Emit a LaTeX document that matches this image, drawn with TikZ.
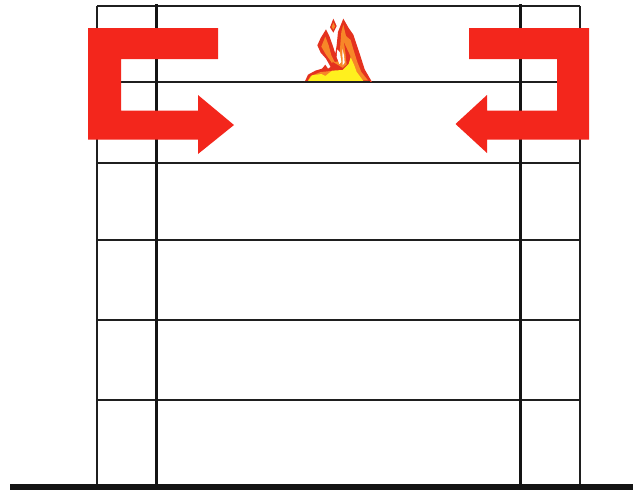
\documentclass[tikz,border=0pt]{standalone}
\definecolor{fire}{RGB}{243,38,28}
\definecolor{flameo}{RGB}{247,135,40}
\definecolor{flamer}{RGB}{228,50,30}
\definecolor{flamey}{RGB}{255,240,30}
\tikzset{
  thinline/.style={draw=black!88,line width=1.7pt},
  post/.style={draw=black!92,line width=3pt},
  redarrow/.style={fill=fire,draw=none}
}
\begin{document}
\begin{tikzpicture}[x=1pt,y=-1pt]
\useasboundingbox (0,0) rectangle (633,490);
% grid
\foreach \y in {6,82,163,240,320,400}
  \draw[thinline] (96.8,\y) -- (580,\y);
\foreach \x in {96.8,580}
  \draw[thinline] (\x,6) -- (\x,484);
\foreach \x in {156,520.5}
  \draw[post] (\x,4) -- (\x,484);
% ground
\fill[black!92] (10,483.5) rectangle (633,490);
% arrows
\fill[redarrow] (88,28) -- (218,28) -- (218,59) -- (121,59) -- (121,110.5) -- (198,110.5)
  -- (198,95) -- (234,125) -- (198,154) -- (198,139.5) -- (88,139.5) -- cycle;
\fill[redarrow] (589,28) -- (469,28) -- (469,59) -- (557,59) -- (557,110.5) -- (487,110.5)
  -- (487,95) -- (455.5,124) -- (487,153) -- (487,139.5) -- (589,139.5) -- cycle;
% flame
\begin{scope}[shift={(300,12)},x=0.3333pt,y=-0.3333pt]
% base and right body
\fill[flamer] (14,210) -- (24,188) -- (46,176) -- (66,170) -- (76,158) -- (84,170) -- (92,165)
  -- (78,140) -- (62,122) -- (52,100) -- (62,78) -- (78,52) -- (88,72) -- (98,100) -- (106,125)
  -- (110,100) -- (114,60) -- (130,20) -- (146,48) -- (160,68) -- (170,98) -- (180,128)
  -- (194,172) -- (216,210) -- cycle;
% small top-left tongue
\fill[flamer] (100,20) -- (110,42) -- (100,62) -- (90,46) -- cycle;
\fill[flameo] (100,32) -- (105,43) -- (100,53) -- (95,45) -- cycle;
% orange interiors
\fill[flameo] (24,205) -- (32,192) -- (62,180) -- (84,178) -- (104,172) -- (94,150) -- (78,128)
  -- (64,104) -- (76,74) -- (86,100) -- (94,130) -- (104,150) -- (116,148) -- (120,110)
  -- (124,60) -- (130,38) -- (138,72) -- (152,84) -- (160,112) -- (172,150) -- (184,180) -- (204,205) -- cycle;
% red core
\fill[flamer] (88,176) -- (98,150) -- (112,158) -- (128,168) -- (140,158) -- (136,120) -- (132,92)
  -- (150,130) -- (160,170) -- (150,190) -- cycle;
% white streaks
\fill[white] (92,66) -- (100,72) -- (108,92) -- (106,112) -- (98,92) -- cycle;
\fill[white] (112,112) -- (120,122) -- (124,150) -- (118,156) -- (110,135) -- cycle;
\fill[white] (127,110) -- (132,130) -- (134,152) -- (128,160) -- cycle;
% yellow base
\fill[flamey] (24,207) -- (36,190) -- (64,186) -- (76,192) -- (96,176) -- (128,174) -- (146,156)
  -- (152,136) -- (162,158) -- (170,180) -- (190,207) -- cycle;
\end{scope}
\draw[thinline] (305,82) -- (370,82);
\end{tikzpicture}
\end{document}
